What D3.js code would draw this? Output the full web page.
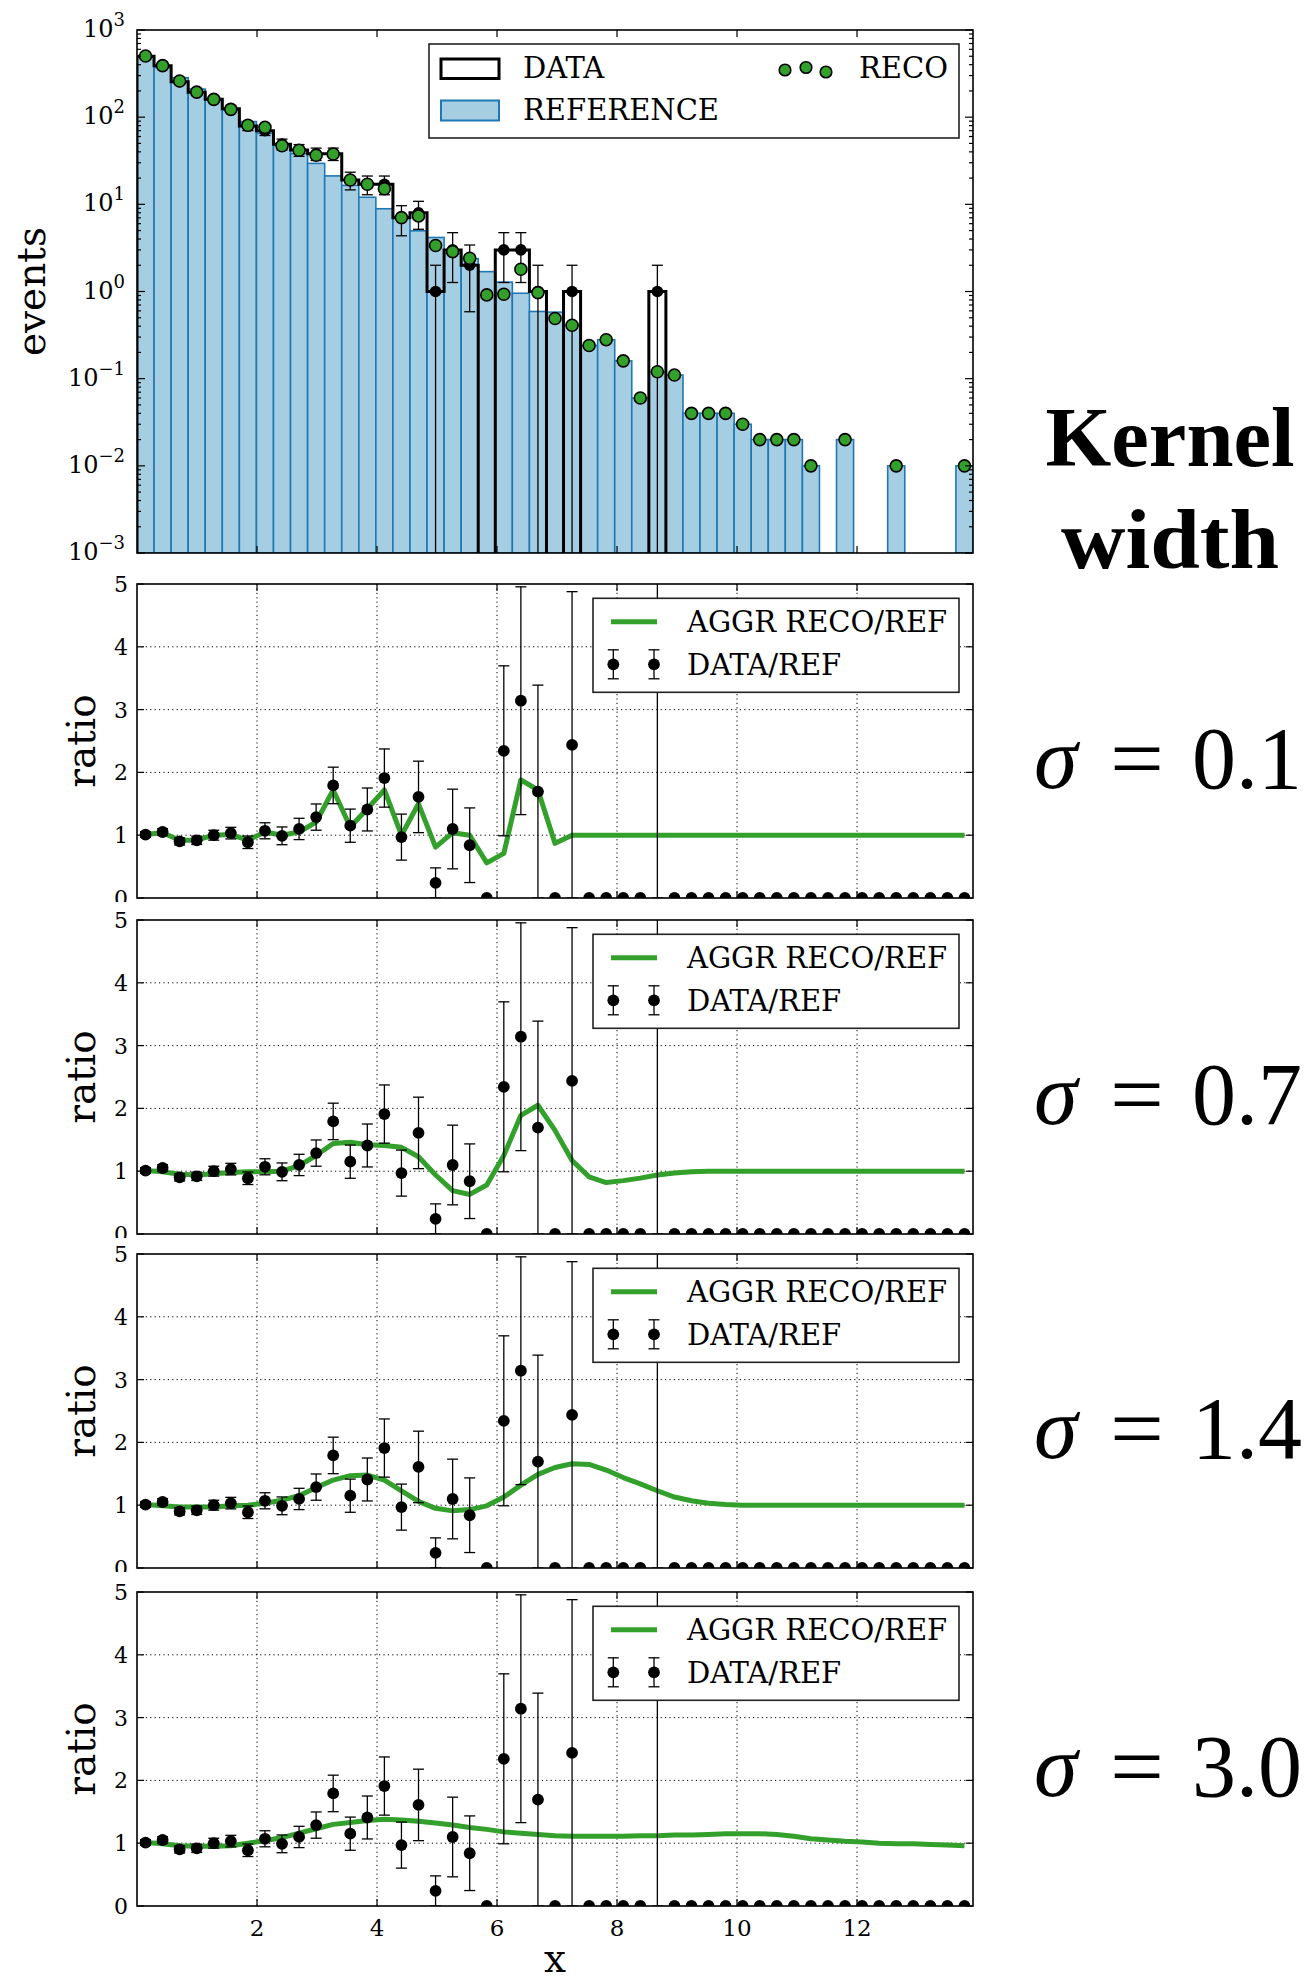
<!DOCTYPE html>
<html>
<head>
<meta charset="utf-8">
<script src="https://cdn.jsdelivr.net/npm/d3@7"></script>
<style>
  body { margin: 0; background: #fff; }
  svg { display: block; }
  text { font-family: "DejaVu Serif", serif; fill: #000; }
  text.note { font-family: "Liberation Serif", serif; }
</style>
</head>
<body>
<div id="chart"></div>
<script>
// ---- binning ----
const nBins = 49;
const xMax = 13.933;
const xTicks = [2, 4, 6, 8, 10, 12];

// ---- histogram contents (events per bin) ----
const refCounts = [495, 371, 283, 210, 161, 121, 89, 65.4, 49.5, 38.2,
  29.5, 21.2, 16.5, 12.06, 8.9, 7.22, 4.97, 4.17, 2.73, 2.38,
  1.69, 1.28, 0.955, 0.59, 0.58, 0.41, 0.24, 0.28, 0.16, 0.06,
  0.12, 0.11, 0.04, 0.04, 0.04, 0.03, 0.02, 0.02, 0.02, 0.01,
  0, 0.02, 0, 0, 0.01, 0, 0, 0, 0.01];
const dataCounts = [500, 390, 255, 193, 161, 125, 79, 70, 49, 42,
  38, 38, 19, 17, 17, 7, 8, 1, 3, 2,
  0, 3, 3, 1, 0, 1, 0, 0, 0, 0,
  1, 0, 0, 0, 0, 0, 0, 0, 0, 0,
  0, 0, 0, 0, 0, 0, 0, 0, 0];
const recoCounts = [503, 390, 260, 194, 160, 123, 80.7, 76.5, 47, 41.7,
  36.6, 37.8, 19.0, 17.0, 15.1, 7.04, 7.36, 3.37, 2.87, 2.41,
  0.914, 0.93, 1.80, 0.97, 0.49, 0.41, 0.24, 0.28, 0.16, 0.06,
  0.12, 0.11, 0.04, 0.04, 0.04, 0.03, 0.02, 0.02, 0.02, 0.01,
  0, 0.02, 0, 0, 0.01, 0, 0, 0, 0.01];

// ---- kernel-aggregated RECO/REF for each kernel width ----
const aggrSigma01 = [1.01, 1.04, 0.92, 0.92, 1.0, 1.01, 0.92, 1.05, 1.0, 1.05,
  1.21, 1.72, 1.13, 1.42, 1.72, 1.0, 1.5, 0.81, 1.04, 1.0,
  0.56, 0.71, 1.88, 1.72, 0.87, 1.0, 1.0, 1.0, 1.0, 1.0,
  1.0, 1.0, 1.0, 1.0, 1.0, 1.0, 1.0, 1.0, 1.0, 1.0,
  1.0, 1.0, 1.0, 1.0, 1.0, 1.0, 1.0, 1.0, 1.0];
const aggrSigma07 = [1.01, 0.99, 0.95, 0.94, 0.96, 0.98, 0.99, 0.99, 1.0, 1.09,
  1.25, 1.44, 1.46, 1.42, 1.41, 1.38, 1.23, 0.94, 0.69, 0.63,
  0.78, 1.25, 1.89, 2.05, 1.65, 1.17, 0.91, 0.82, 0.85, 0.89,
  0.94, 0.97, 0.99, 1.0, 1.0, 1.0, 1.0, 1.0, 1.0, 1.0,
  1.0, 1.0, 1.0, 1.0, 1.0, 1.0, 1.0, 1.0, 1.0];
const aggrSigma14 = [1.01, 0.99, 0.97, 0.97, 0.97, 0.99, 1.0, 1.03, 1.08, 1.15,
  1.28, 1.40, 1.47, 1.48, 1.40, 1.23, 1.06, 0.95, 0.91, 0.93,
  0.99, 1.13, 1.32, 1.49, 1.60, 1.66, 1.65, 1.56, 1.44, 1.34,
  1.23, 1.13, 1.07, 1.03, 1.01, 1.0, 1.0, 1.0, 1.0, 1.0,
  1.0, 1.0, 1.0, 1.0, 1.0, 1.0, 1.0, 1.0, 1.0];
const aggrSigma30 = [1.01, 0.99, 0.96, 0.95, 0.95, 0.96, 1.0, 1.04, 1.09, 1.16,
  1.23, 1.30, 1.33, 1.36, 1.38, 1.37, 1.35, 1.32, 1.29, 1.25,
  1.22, 1.18, 1.16, 1.14, 1.12, 1.11, 1.11, 1.11, 1.11, 1.12,
  1.12, 1.13, 1.13, 1.14, 1.15, 1.15, 1.15, 1.14, 1.11, 1.07,
  1.05, 1.03, 1.02, 1.0, 0.99, 0.99, 0.98, 0.97, 0.96];
const sigmaLabels = ["0.1", "0.7", "1.4", "3.0"];
const aggrSeries = [aggrSigma01, aggrSigma07, aggrSigma14, aggrSigma30];

// ---- axis ticks ----
const logMajor = [1e-3, 1e-2, 1e-1, 1e0, 1e1, 1e2, 1e3];
const logExponents = ["\u22123", "\u22122", "\u22121", "0", "1", "2", "3"];
const ratioTicks = [0, 1, 2, 3, 4, 5];
const ratioGrid = [1, 2, 3, 4];

// ---- colours ----
const refFill = "#a6cee3", refEdge = "#1f78b4", green = "#33a02c";

// ---- layout ----
const W = 1311, H = 1981;
const X0 = 137, X1 = 973;
const topY0 = 30, topY1 = 553;
const panelTops = [584, 920, 1254, 1592];
const panelH = 314;

const binW = xMax / nBins;
const bins = d3.range(nBins).map(i => ({
  i, lo: i * binW, hi: (i + 1) * binW, c: (i + 0.5) * binW,
  ref: refCounts[i], data: dataCounts[i], reco: recoCounts[i]
}));

const svg = d3.select("#chart").append("svg")
  .attr("width", W).attr("height", H).attr("viewBox", `0 0 ${W} ${H}`);
svg.append("rect").attr("width", W).attr("height", H).attr("fill", "#fff");
const defs = svg.append("defs");

const x = d3.scaleLinear().domain([0, xMax]).range([X0, X1]);

function clip(id, x0, y0, w, h) {
  defs.append("clipPath").attr("id", id)
    .append("rect").attr("x", x0).attr("y", y0).attr("width", w).attr("height", h);
  return `url(#${id})`;
}

function errorBar(g, cx, yLo, yHi, capLo, capHi, cap, sw) {
  g.append("line").attr("x1", cx).attr("x2", cx).attr("y1", yLo).attr("y2", yHi)
    .attr("stroke", "#000").attr("stroke-width", sw);
  if (capHi) g.append("line").attr("x1", cx - cap).attr("x2", cx + cap)
    .attr("y1", yHi).attr("y2", yHi).attr("stroke", "#000").attr("stroke-width", sw);
  if (capLo) g.append("line").attr("x1", cx - cap).attr("x2", cx + cap)
    .attr("y1", yLo).attr("y2", yLo).attr("stroke", "#000").attr("stroke-width", sw);
}

// =================== top panel: event counts ===================
const yTop = d3.scaleLog().domain([1e-3, 1e3]).range([topY1, topY0]);
const yFloor = 1e-6; // below the visible range, clipped away
const topG = svg.append("g");
const topPlot = topG.append("g").attr("clip-path", clip("clipTop", X0, topY0, X1 - X0, topY1 - topY0));

topPlot.selectAll("rect.ref").data(bins.filter(b => b.ref > 0)).join("rect")
  .attr("class", "ref")
  .attr("x", b => x(b.lo)).attr("width", b => x(b.hi) - x(b.lo))
  .attr("y", b => yTop(b.ref)).attr("height", b => topY1 - yTop(b.ref))
  .attr("fill", refFill).attr("stroke", refEdge).attr("stroke-width", 1.6);

// data as an outline step histogram
const stepPts = [[0, yFloor]];
bins.forEach(b => {
  const v = b.data > 0 ? b.data : yFloor;
  stepPts.push([b.lo, v], [b.hi, v]);
});
stepPts.push([xMax, yFloor]);
topPlot.append("path")
  .attr("d", d3.line().x(p => x(p[0])).y(p => yTop(p[1]))(stepPts))
  .attr("fill", "none").attr("stroke", "#000").attr("stroke-width", 3)
  .attr("stroke-linejoin", "miter");

// data points with sqrt(N) errors
const topErr = topPlot.append("g");
bins.filter(b => b.data > 0).forEach(b => {
  const s = Math.sqrt(b.data);
  const lo = b.data - s, hi = b.data + s;
  errorBar(topErr, x(b.c), lo > 0 ? yTop(lo) : topY1 + 10, yTop(hi), lo > 0, true, 5.5, 1.3);
});
topPlot.selectAll("circle.data").data(bins.filter(b => b.data > 0)).join("circle")
  .attr("class", "data").attr("cx", b => x(b.c)).attr("cy", b => yTop(b.data))
  .attr("r", 5.8).attr("fill", "#000");
topPlot.selectAll("circle.reco").data(bins.filter(b => b.reco > 0)).join("circle")
  .attr("class", "reco").attr("cx", b => x(b.c)).attr("cy", b => yTop(b.reco))
  .attr("r", 6).attr("fill", green).attr("stroke", "#000").attr("stroke-width", 1.6);

// frame and inward ticks
topG.append("rect").attr("x", X0).attr("y", topY0).attr("width", X1 - X0).attr("height", topY1 - topY0)
  .attr("fill", "none").attr("stroke", "#000").attr("stroke-width", 1.6);
const minorLog = [];
for (let e = -3; e < 3; e++) for (let m = 2; m <= 9; m++) minorLog.push(m * Math.pow(10, e));
const topTicks = topG.append("g").attr("stroke", "#000").attr("stroke-width", 1.2);
logMajor.forEach(v => {
  const y = yTop(v);
  topTicks.append("line").attr("x1", X0).attr("x2", X0 + 8).attr("y1", y).attr("y2", y);
  topTicks.append("line").attr("x1", X1).attr("x2", X1 - 8).attr("y1", y).attr("y2", y);
});
minorLog.forEach(v => {
  const y = yTop(v);
  topTicks.append("line").attr("x1", X0).attr("x2", X0 + 4).attr("y1", y).attr("y2", y);
  topTicks.append("line").attr("x1", X1).attr("x2", X1 - 4).attr("y1", y).attr("y2", y);
});
xTicks.forEach(v => {
  const xx = x(v);
  topTicks.append("line").attr("x1", xx).attr("x2", xx).attr("y1", topY0).attr("y2", topY0 + 7);
  topTicks.append("line").attr("x1", xx).attr("x2", xx).attr("y1", topY1).attr("y2", topY1 - 7);
});
logMajor.forEach((v, k) => {
  const t = topG.append("text").attr("x", 125).attr("y", yTop(v) + 7)
    .attr("text-anchor", "end").attr("font-size", 24);
  t.append("tspan").text("10");
  t.append("tspan").attr("dy", -11).attr("font-size", 18).text(logExponents[k]);
});
topG.append("text").attr("transform", `translate(45,${(topY0 + topY1) / 2}) rotate(-90)`)
  .attr("text-anchor", "middle").attr("font-size", 39).text("events");

// legend
const lg = topG.append("g");
lg.append("rect").attr("x", 429).attr("y", 44).attr("width", 530).attr("height", 94)
  .attr("fill", "#fff").attr("stroke", "#222").attr("stroke-width", 1.6);
lg.append("rect").attr("x", 441).attr("y", 59).attr("width", 58).attr("height", 19.5)
  .attr("fill", "#fff").attr("stroke", "#000").attr("stroke-width", 3);
lg.append("text").attr("x", 523).attr("y", 78).attr("font-size", 29).text("DATA");
lg.append("rect").attr("x", 441).attr("y", 100.5).attr("width", 58).attr("height", 20)
  .attr("fill", refFill).attr("stroke", refEdge).attr("stroke-width", 2);
lg.append("text").attr("x", 523).attr("y", 120).attr("font-size", 29).text("REFERENCE");
[[785, 70], [806, 67.5], [826, 72]].forEach(p =>
  lg.append("circle").attr("cx", p[0]).attr("cy", p[1]).attr("r", 5.8)
    .attr("fill", green).attr("stroke", "#000").attr("stroke-width", 1.6));
lg.append("text").attr("x", 859).attr("y", 78).attr("font-size", 29).text("RECO");

// =================== ratio panels ===================
const ratioPts = bins.map(b => ({
  c: b.c,
  r: b.ref > 0 ? b.data / b.ref : 0,
  e: b.ref > 0 ? Math.sqrt(b.data) / b.ref : 0
}));

panelTops.forEach((T, p) => {
  const B = T + panelH;
  const y = d3.scaleLinear().domain([0, 5]).range([B, T]);
  const g = svg.append("g");
  const plot = g.append("g").attr("clip-path", clip(`clipR${p}`, X0, T, X1 - X0, panelH));

  // dotted grid
  const grid = plot.append("g").attr("stroke", "#000").attr("stroke-width", 1)
    .attr("stroke-dasharray", "1.2,3.2");
  xTicks.forEach(v => grid.append("line").attr("x1", x(v)).attr("x2", x(v)).attr("y1", T).attr("y2", B));
  ratioGrid.forEach(v => grid.append("line").attr("x1", X0).attr("x2", X1).attr("y1", y(v)).attr("y2", y(v)));

  // aggregated reco / ref curve
  plot.append("path")
    .attr("d", d3.line().x((v, i) => x(bins[i].c)).y(v => y(v))(aggrSeries[p]))
    .attr("fill", "none").attr("stroke", green).attr("stroke-width", 5)
    .attr("stroke-linejoin", "round");

  // data / ref points
  const eg = plot.append("g");
  ratioPts.filter(d => d.e > 0).forEach(d => {
    errorBar(eg, x(d.c), y(d.r - d.e), y(d.r + d.e), true, true, 5.5, 1.3);
  });
  plot.selectAll("circle.pt").data(ratioPts).join("circle")
    .attr("class", "pt").attr("cx", d => x(d.c)).attr("cy", d => y(d.r))
    .attr("r", 5.9).attr("fill", "#000");

  // legend
  const L = g.append("g");
  L.append("rect").attr("x", 593).attr("y", T + 14.3).attr("width", 366).attr("height", 94)
    .attr("fill", "#fff").attr("stroke", "#222").attr("stroke-width", 1.6);
  L.append("line").attr("x1", 611).attr("x2", 657).attr("y1", T + 37.7).attr("y2", T + 37.7)
    .attr("stroke", green).attr("stroke-width", 5);
  L.append("text").attr("x", 687).attr("y", T + 48.3).attr("font-size", 29).text("AGGR RECO/REF");
  [613.3, 654].forEach(cx => {
    errorBar(L, cx, T + 94.8, T + 65.8, true, true, 5.5, 1.3);
    L.append("circle").attr("cx", cx).attr("cy", T + 80.3).attr("r", 5.9).attr("fill", "#000");
  });
  L.append("text").attr("x", 687).attr("y", T + 91).attr("font-size", 29).text("DATA/REF");

  // frame and inward ticks
  g.append("rect").attr("x", X0).attr("y", T).attr("width", X1 - X0).attr("height", panelH)
    .attr("fill", "none").attr("stroke", "#000").attr("stroke-width", 1.6);
  const tk = g.append("g").attr("stroke", "#000").attr("stroke-width", 1.2);
  ratioTicks.forEach(v => {
    tk.append("line").attr("x1", X0).attr("x2", X0 + 7).attr("y1", y(v)).attr("y2", y(v));
    tk.append("line").attr("x1", X1).attr("x2", X1 - 7).attr("y1", y(v)).attr("y2", y(v));
  });
  xTicks.forEach(v => {
    tk.append("line").attr("x1", x(v)).attr("x2", x(v)).attr("y1", T).attr("y2", T + 7);
    tk.append("line").attr("x1", x(v)).attr("x2", x(v)).attr("y1", B).attr("y2", B - 7);
  });

  // y tick labels (the lowest label is cut by the panel below)
  const last = p === panelTops.length - 1;
  const lab = g.append("g");
  if (!last) lab.attr("clip-path", clip(`clipLab${p}`, 0, T - 30, X0, panelH + 34));
  ratioTicks.forEach(v => lab.append("text").attr("x", 128).attr("y", y(v) + 8)
    .attr("text-anchor", "end").attr("font-size", 22).text(v));

  g.append("text").attr("transform", `translate(95,${(T + B) / 2}) rotate(-90)`)
    .attr("text-anchor", "middle").attr("font-size", 39).text("ratio");

  if (last) {
    xTicks.forEach(v => g.append("text").attr("x", x(v)).attr("y", B + 30)
      .attr("text-anchor", "middle").attr("font-size", 23).text(v));
    g.append("text").attr("x", (X0 + X1) / 2).attr("y", B + 66)
      .attr("text-anchor", "middle").attr("font-size", 39).text("x");
  }

  // kernel width annotation: sigma, equals sign and value set like a formula
  const yy = T + 204;
  svg.append("text").attr("class", "note").attr("x", 1034).attr("y", yy)
    .attr("font-size", 88).attr("font-style", "italic").text("\u03c3");
  svg.append("text").attr("class", "note").attr("x", 1110).attr("y", yy)
    .attr("font-size", 88).attr("textLength", 54).attr("lengthAdjust", "spacingAndGlyphs").text("=");
  svg.append("text").attr("class", "note").attr("x", 1192).attr("y", yy)
    .attr("font-size", 88).text(sigmaLabels[p]);
});

svg.append("text").attr("class", "note").attr("x", 1170).attr("y", 466).attr("text-anchor", "middle")
  .attr("font-weight", "bold").attr("font-size", 84)
  .attr("textLength", 249).attr("lengthAdjust", "spacingAndGlyphs").text("Kernel");
svg.append("text").attr("class", "note").attr("x", 1170).attr("y", 568).attr("text-anchor", "middle")
  .attr("font-weight", "bold").attr("font-size", 84)
  .attr("textLength", 218).attr("lengthAdjust", "spacingAndGlyphs").text("width");
</script>
</body>
</html>
